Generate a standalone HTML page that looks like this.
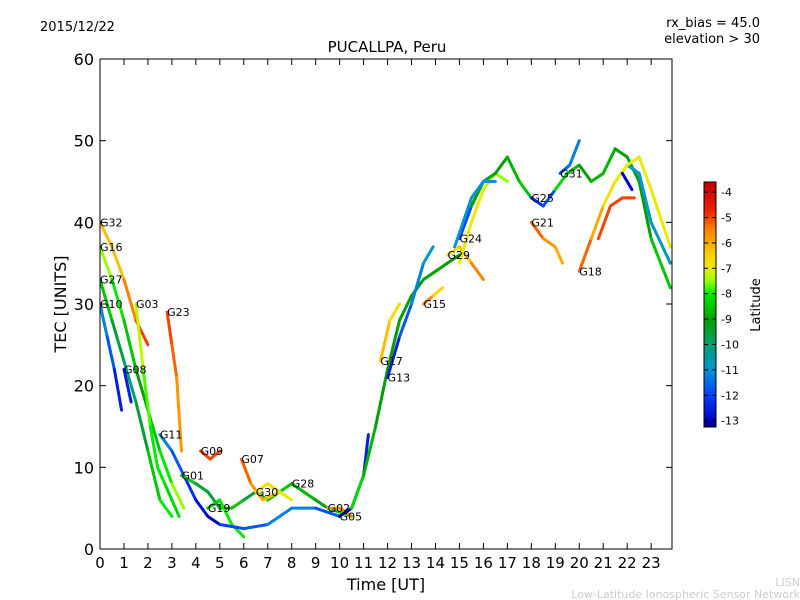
<!DOCTYPE html>
<html><head><meta charset="utf-8"><style>
body{margin:0;background:#fff;}
svg{display:block;font-family:"DejaVu Sans","Liberation Sans",sans-serif;}
</style></head><body>
<svg id="chart" width="800" height="600" viewBox="0 0 800 600">
<defs>
<linearGradient id="jet" x1="0" y1="1" x2="0" y2="0"></linearGradient>
<clipPath id="clip"><rect x="100" y="59" width="572" height="490"/></clipPath>
</defs>
<text x="40" y="31" font-size="13">2015/12/22</text>
<text x="760" y="27" font-size="13" text-anchor="end">rx_bias = 45.0</text>
<text x="760" y="43" font-size="13" text-anchor="end">elevation &gt; 30</text>
<text x="387" y="52" font-size="15" text-anchor="middle">PUCALLPA, Peru</text>
<g id="marks" clip-path="url(#clip)"></g>
<g id="labels"></g>
<rect x="100" y="59" width="572" height="490" fill="none" stroke="#000" stroke-width="1"/>
<g id="axes"></g>
<text x="386" y="590" font-size="16" text-anchor="middle">Time [UT]</text>
<text x="66" y="304" font-size="16" text-anchor="middle" transform="rotate(-90 66 304)">TEC [UNITS]</text>
<rect x="704" y="182" width="12" height="245" fill="url(#jet)" stroke="#000"/>
<g id="cbticks"></g>
<text x="760" y="305" font-size="13" text-anchor="middle" transform="rotate(-90 760 305)">Latitude</text>
<text x="800" y="586" font-size="11" fill="#ccc" text-anchor="end">LISN</text>
<text x="800" y="598" font-size="11" fill="#ccc" text-anchor="end">Low-Latitude Ionospheric Sensor Network</text>
</svg>
<script>
const xTicks=[0,1,2,3,4,5,6,7,8,9,10,11,12,13,14,15,16,17,18,19,20,21,22,23];
const yTicks=[0,10,20,30,40,50,60];
const cbTicks=[-4,-5,-6,-7,-8,-9,-10,-11,-12,-13];
const trackNames=["G32","G16","G10","G27","G08","G03","G23","G11","G09","G01","G19","G07","G30","","G28","G02","G05","","G17","G13","G15","G24","G29","","","G25","G21","G31","G18","","","","","",""];
const trackTimes=[
[0,0.5,1,1.5,2],[0,0.5,1,1.5,2,2.5,3,3.5],[0,0.3,0.6,0.9],[0,0.5,1,1.5,2,2.5,3],[1,1.3],
[1.5,1.8,2.1,2.4,2.7,3,3.3],[2.8,3,3.2,3.4],[2.5,3,3.5,4,4.5,5],[4.2,4.6,5],
[3.4,4,4.5,5,5.5,6,6.5,7,7.5,8],[4.5,5,5.5,6],[5.9,6.3,6.8,7.5],[6.5,7,7.5,8],
[5,6,7,8,9,10],[8,8.5,9,9.5,10,10.5],[9.5,10,10.5],[10,10.5,11,11.2],
[10.5,11,11.5,12,12.5,13,13.5,14,14.5,15],[11.7,12.1,12.5],[12,12.5,13,13.5,13.9],[13.5,13.9,14.3],
[15,15.5,16],[14.5,15,15.5,16],[15,15.5,16,16.5,17],[15.5,16,16.5,17,17.5,18],
[18,18.5,19],[18,18.5,19,19.3],[19.2,19.6,20],[20,20.5,21,21.5],
[19,19.5,20,20.5,21,21.5,22,22.5,23,23.8],[22,22.5,23,23.8],[20.8,21.3,21.8,22.3],
[21.5,22,22.5,23,23.8],[21.8,22.2],[14.8,15.5,16,16.5]];
const trackTec=[
[40,37,33,28,25],[37,33,28,22,17,12,8,5],[30,26,22,17],[33,28,23,18,12,6,4],[22,18],
[30,22,15,10,8,6,4],[29,25,21,12],[14,12,9,6,4,3],[12,11,12],
[9,8,7,5,5,6,7,6,7,8],[5,6,3,1.5],[11,8,6,7],[7,8,7,6],
[3,2.5,3,5,5,4],[8,7,6,5,4.5,4],[5,5,4],[4,5,9,14],
[5,9,15,22,28,31,33,34,35,36],[23,28,30],[21,26,30,35,37],[30,31,32],
[38,42,45],[36,37,35,33],[35,40,44,46,45],[42,45,46,48,45,43],
[43,42,44],[40,38,37,35],[46,47,50],[34,38,42,45],
[44,46,47,45,46,49,48,45,38,32],[47,46,40,35],[38,42,43,43],
[45,47,48,44,37],[46,44],[37,43,45,45]];
const trackLat=[
[-6,-6.5,-6,-5,-5],[-7,-8,-8,-9,-9,-8,-8,-7],[-11,-11.5,-12,-13],[-8,-9,-10,-10,-9,-8,-8],[-12.5,-12.5],
[-7,-7.5,-8,-8,-8,-8.5,-8],[-5,-5,-5.5,-6],[-11,-11.5,-12,-12.5,-13,-13],[-5,-5,-5],
[-8,-9,-10,-9,-8,-9,-10,-9,-8,-9],[-9,-8,-8,-8],[-5,-5.5,-6,-6.5],[-7,-6.5,-7,-7],
[-12,-12,-11.5,-11,-11.5,-12],[-9,-8.5,-9,-9,-8.5,-8],[-6,-6,-5],[-13,-13,-12.5,-12.5],
[-8,-8.5,-9,-9,-9,-9,-9,-9,-9,-9],[-6,-6.5,-7],[-13,-12,-11.5,-11,-11],[-5,-6,-7],
[-12,-12,-11.5],[-7,-6.5,-6,-5],[-7,-7,-7,-7.5,-7.5],[-9,-9,-9,-9,-8.5,-8.5],
[-12.5,-12,-11.5],[-5,-5.5,-6,-6],[-12,-11.5,-11],[-5,-5.5,-6.5,-7],
[-8,-8.5,-9,-9,-8.5,-9,-9,-9,-9,-8],[-11,-11,-11,-10.5],[-5,-5,-5,-5],
[-7,-7,-7,-7,-7],[-13,-13],[-11,-11,-11,-11]];
const X0=100,X1=672,XMAX=23.87,Y0=549,Y1=59,YMAX=60;
const LATMIN=-13.25,LATMAX=-3.6;
const cmap=[[-13.25,[0,0,128]],[-13,[0,0,190]],[-12,[0,64,255]],[-11,[0,150,210]],[-10,[0,160,110]],[-9,[0,160,0]],[-8,[0,235,0]],[-7.5,[150,255,0]],[-7,[235,235,0]],[-6.5,[255,210,0]],[-5.5,[255,130,0]],[-4.7,[240,30,0]],[-3.6,[190,0,0]]];
function xs(t){return X0+(X1-X0)*t/XMAX;}
function ys(v){return Y0-(Y0-Y1)*v/YMAX;}
function jet(lat){
 if(lat<=cmap[0][0])return `rgb(${cmap[0][1]})`;
 for(let i=1;i<cmap.length;i++){
  if(lat<=cmap[i][0]){const a=cmap[i-1],b=cmap[i],f=(lat-a[0])/(b[0]-a[0]);
   return `rgb(${[0,1,2].map(j=>Math.round(a[1][j]+(b[1][j]-a[1][j])*f)).join(',')})`;}
 }
 return `rgb(${cmap[cmap.length-1][1]})`;}
const NS="http://www.w3.org/2000/svg";
const grad=document.getElementById('jet');
cmap.forEach(s=>{const st=document.createElementNS(NS,'stop');st.setAttribute('offset',(s[0]-LATMIN)/(LATMAX-LATMIN));st.setAttribute('stop-color',`rgb(${s[1]})`);grad.appendChild(st);});
const marks=document.getElementById('marks'),labels=document.getElementById('labels'),axes=document.getElementById('axes');
trackTimes.forEach((ts,i)=>{
 for(let k=0;k<ts.length-1;k++){
  const l=document.createElementNS(NS,'line');
  l.setAttribute('x1',xs(ts[k]));l.setAttribute('y1',ys(trackTec[i][k]));
  l.setAttribute('x2',xs(ts[k+1]));l.setAttribute('y2',ys(trackTec[i][k+1]));
  l.setAttribute('stroke',jet((trackLat[i][k]+trackLat[i][k+1])/2));
  l.setAttribute('stroke-width','3');l.setAttribute('stroke-linecap','round');
  
  
  marks.appendChild(l);
 }
 if(trackNames[i]){
  const t=document.createElementNS(NS,'text');
  t.setAttribute('x',xs(ts[0]));t.setAttribute('y',ys(trackTec[i][0])+4);
  t.setAttribute('font-size','11');t.textContent=trackNames[i];
  
  
  labels.appendChild(t);
 }
});
xTicks.forEach(v=>{
 const x=xs(v);
 axes.insertAdjacentHTML('beforeend',`<line x1="${x}" y1="549" x2="${x}" y2="543" stroke="#000"/><line x1="${x}" y1="59" x2="${x}" y2="65" stroke="#000"/>`);
 const t=document.createElementNS(NS,'text');
 t.setAttribute('x',x);t.setAttribute('y',568);t.setAttribute('font-size','15');t.setAttribute('text-anchor','middle');
 t.textContent=v;
 
 
 axes.appendChild(t);
});
yTicks.forEach(v=>{
 const y=ys(v);
 axes.insertAdjacentHTML('beforeend',`<line x1="100" y1="${y}" x2="106" y2="${y}" stroke="#000"/><line x1="672" y1="${y}" x2="666" y2="${y}" stroke="#000"/>`);
 const t=document.createElementNS(NS,'text');
 t.setAttribute('x',94);t.setAttribute('y',y+6);t.setAttribute('font-size','16');t.setAttribute('text-anchor','end');
 t.textContent=v;
 
 
 axes.appendChild(t);
});
const cbg=document.getElementById('cbticks');
cbTicks.forEach(v=>{
 const y=182+245*(LATMAX-v)/(LATMAX-LATMIN);
 cbg.insertAdjacentHTML('beforeend',`<line x1="704" y1="${y}" x2="708" y2="${y}" stroke="#000"/><line x1="716" y1="${y}" x2="712" y2="${y}" stroke="#000"/>`);
 const t=document.createElementNS(NS,'text');
 t.setAttribute('x',721);t.setAttribute('y',y+4);t.setAttribute('font-size','11');
 t.textContent=v;
 
 
 cbg.appendChild(t);
});
</script>
</body></html>
